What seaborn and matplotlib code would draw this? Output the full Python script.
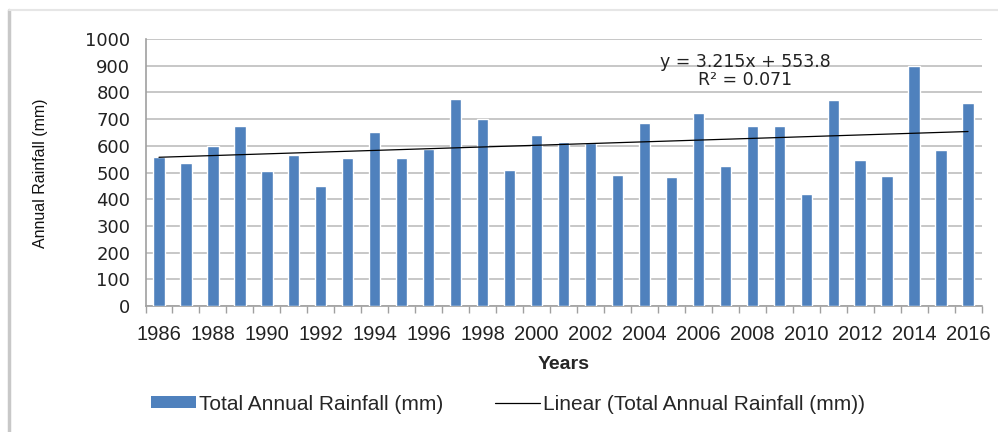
import matplotlib
matplotlib.use("Agg")
import matplotlib.pyplot as plt
import seaborn as sns
import numpy as np
import pandas as pd
from matplotlib.lines import Line2D
from matplotlib.patches import Patch

years = list(range(1986, 2017))
rainfall = [558, 537, 601, 674, 506, 565, 451, 554, 651, 554, 589, 775, 700, 509,
            642, 615, 610, 491, 685, 484, 722, 525, 674, 674, 420, 772, 546, 486,
            900, 586, 760]
tick_years = [str(y) for y in range(1986, 2017, 2)]
trend_slope = 3.215
trend_intercept = 553.8
eq_text = "y = 3.215x + 553.8"
r2_text = "R² = 0.071"

sns.set_theme(style="white")
plt.rcParams['font.family'] = ['DejaVu Sans']
LIB = ['Liberation Sans', 'DejaVu Sans']

df = pd.DataFrame({"Year": [str(y) for y in years], "Rainfall": rainfall})

fig = plt.figure(figsize=(9.98, 4.32), dpi=100)
ax = fig.add_axes([145.5/998, 1-306/432, 836/998, (306-39)/432])

bar_color = "#4F81BD"
sns.barplot(data=df, x="Year", y="Rainfall", color=bar_color, width=0.42,
            saturation=1, ax=ax, zorder=3)

# trend line
xs = np.arange(len(years))
trend = trend_intercept + trend_slope * (xs + 1)
ax.plot(xs, trend, color="black", lw=0.9, zorder=4)

ax.set_xlim(-0.5, len(years) - 0.5)
ax.set_ylim(0, 1000)
ax.set_yticks(range(0, 1001, 100))
ax.tick_params(axis="y", labelsize=13, colors="#222222", length=5, width=1,
               color="#A0A0A0", pad=6)
ax.set_xticks(range(0, len(years), 2))
ax.set_xticklabels(tick_years, fontsize=14.5, family=LIB, color="#222222")
ax.set_xticks(np.arange(-0.5, len(years), 1), minor=True)
ax.tick_params(axis="x", which="major", length=0, pad=14)
ax.tick_params(axis="x", which="minor", length=5, width=1, color="#A0A0A0", bottom=True)
ax.yaxis.grid(True, color="#BDBDBD", lw=1.2, zorder=0)
ax.xaxis.grid(False)
for s in ["top", "right"]:
    ax.spines[s].set_visible(False)
for s in ["left", "bottom"]:
    ax.spines[s].set_color("#A0A0A0")
    ax.spines[s].set_linewidth(1.2)

ax.set_xlabel("Years", fontsize=14, fontweight="bold", family=LIB, labelpad=8)
ax.set_ylabel("")
fig.text(41/998, 1-173/432, "Annual Rainfall (mm)", rotation=90, ha="center", va="center",
         fontsize=11.5, family=LIB, color="#111111")

fig.text(745/998, 1-62/432, eq_text, ha="center", va="center", fontsize=12.5, color="#222222")
fig.text(745/998, 1-80/432, r2_text, ha="center", va="center", fontsize=12.5, color="#222222")

handles = [Patch(facecolor=bar_color, edgecolor="none"),
           Line2D([0], [0], color="black", lw=0.9)]
labels = ["Total Annual Rainfall (mm)", "Linear (Total Annual Rainfall (mm))"]
fig.legend(handles, labels, loc="center", bbox_to_anchor=(508/998, 1-404/432), ncol=2,
           frameon=False, prop={"family": LIB, "size": 15},
           handlelength=2.15, handleheight=0.45, columnspacing=2.5, handletextpad=0.15)

# frame
fig.add_artist(Line2D([9/998, 9/998], [0, 1-10/432], color="#C8C8C8", lw=2.5,
                      transform=fig.transFigure))
fig.add_artist(Line2D([9/998, 1], [1-10/432, 1-10/432], color="#E6E6E6", lw=1.5,
                      transform=fig.transFigure))

fig.savefig("out.png", dpi=100)
